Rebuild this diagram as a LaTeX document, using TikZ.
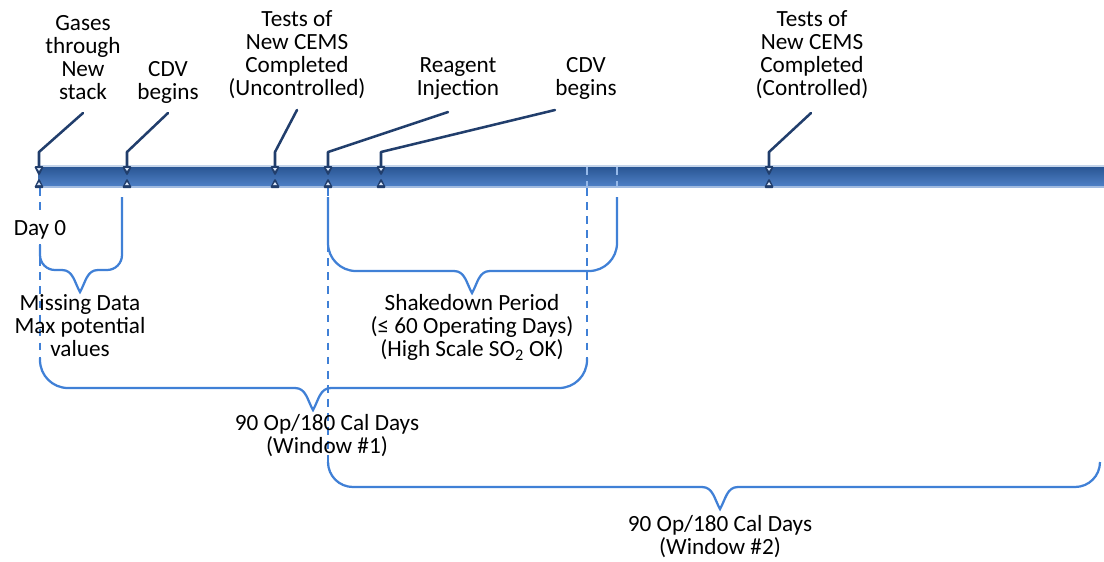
\documentclass[tikz,border=0pt]{standalone}
\usepackage{fontspec}
\setmainfont{Carlito}
\usepackage{xcolor}
\usepackage{tikz}
\usetikzlibrary{calc}
\definecolor{leadblue}{RGB}{33,62,108}
\definecolor{bracblue}{RGB}{64,128,214}
\definecolor{bartop}{RGB}{42,86,148}
\definecolor{barbot}{RGB}{80,130,200}
\definecolor{baredge}{RGB}{196,212,234}
\newcommand{\tlbrace}[7]{%
  \draw[brc] (#1,#2) -- (#1,#6-#7) to[out=-90,in=180] (#1+#7,#6) -- (#5-18,#6)
    to[out=0,in=120] (#5,#6+22) to[out=60,in=180] (#5+18,#6) -- (#3-#7,#6)
    to[out=0,in=-90] (#3,#6-#7) -- (#3,#4);}

\begin{document}
\begin{tikzpicture}[
    x=0.025cm,y=-0.025cm,
    font=\fontsize{16.5}{16.4}\selectfont,
    lbl/.style={anchor=south,inner sep=0pt,align=center},
    lead/.style={leadblue,line width=1.8pt,line cap=round,line join=round},
    brc/.style={bracblue,line width=1.6pt},
    dsh/.style={bracblue,line width=1.4pt,dash pattern=on 5.5pt off 4.5pt},
    evmark/.pic={
      \fill[leadblue,rounded corners=1pt] (-5,0) -- (5,0) -- (0,10) -- cycle;
      \fill[white!80!bracblue] (-2,2) -- (2,2) -- (0,5) -- cycle;
      \fill[leadblue,rounded corners=1pt] (-5,22) -- (5,22) -- (0,12) -- cycle;
      \fill[white!80!bracblue] (-2,19) -- (2,19) -- (0,16) -- cycle;
    }
  ]
    \useasboundingbox (0,0) rectangle (1104,561);

    \shade[top color=bartop,bottom color=barbot] (38,167) rectangle (1104,187);
    \draw[baredge,line width=1.2pt] (38,166) -- (1104,166);
    \draw[baredge!70!barbot,line width=0.8pt] (38,187) -- (1104,187);

    \draw[dsh,bracblue!55!white,line width=0.8pt] (587,167) -- (587,187);
    \draw[dsh,bracblue!55!white,line width=0.8pt] (617,167) -- (617,187);
    \draw[dsh] (40,188) -- (40,358);
    \draw[dsh] (328,188) -- (328,462);
    \draw[dsh] (587,188) -- (587,358);

    \tlbrace{40}{245}{122}{197}{80}{270}{15}
    \tlbrace{328}{197}{617}{197}{472}{271}{28}
    \tlbrace{40}{358}{587}{358}{313}{388}{28}
    \tlbrace{328}{462}{1100}{462}{720}{487}{25}

    \coordinate (eGas) at (39,166);
    \coordinate (eCdvA) at (127,166);
    \coordinate (eTestA) at (275,166);
    \coordinate (eReag) at (328,166);
    \coordinate (eCdvB) at (381,166);
    \coordinate (eTestB) at (769,166);

    \node[lbl] (gases) at (83,107) {Gases\\through\\New\\stack\strut};
    \node[lbl] (cdvA) at (168,107) {CDV\\begins\strut};
    \node[lbl] (testA) at (297,103) {Tests of\\New CEMS\\Completed\\(Uncontrolled)\strut};
    \node[lbl] (reag) at (458,103) {Reagent\\Injection\strut};
    \node[lbl] (cdvB) at (586,103) {CDV\\begins\strut};
    \node[lbl] (testB) at (812,103) {Tests of\\New CEMS\\Completed\\(Controlled)\strut};

    \draw[lead] (eGas) -- ++(0,-14) -- ($(gases.south)+(0,6)$);
    \draw[lead] (eCdvA) -- ++(0,-14) -- ($(cdvA.south)+(0,6)$);
    \draw[lead] (eTestA) -- ++(0,-14) -- ($(testA.south)+(0,7)$);
    \draw[lead] (eReag) -- ++(0,-14) -- ($(reag.south)+(-10,9)$);
    \draw[lead] (eCdvB) -- ++(0,-14) -- ($(cdvB.south)+(-31,7)$);
    \draw[lead] (eTestB) -- ++(0,-14) -- ($(testB.south)+(-1,10)$);

    \foreach \ev in {eGas,eCdvA,eTestA,eReag,eCdvB,eTestB}
      \pic at (\ev) {evmark};

    \node[lbl,anchor=base,fill=white,inner sep=3pt] (day0) at (40,235) {Day 0};
    \node[lbl] (miss) at (80,364) {Missing Data\\Max potential\\values\strut};
    \node[lbl] (shake) at (472,364) {Shakedown Period\\(≤ 60 Operating Days)\\(High Scale SO\textsubscript{2} OK)\strut};
    \node[lbl] (winA) at (327,461) {90 Op/180 Cal Days\\(Window \#1)\strut};
    \node[lbl] (winB) at (720,562) {90 Op/180 Cal Days\\(Window \#2)\strut};
  \end{tikzpicture}
\end{document}
